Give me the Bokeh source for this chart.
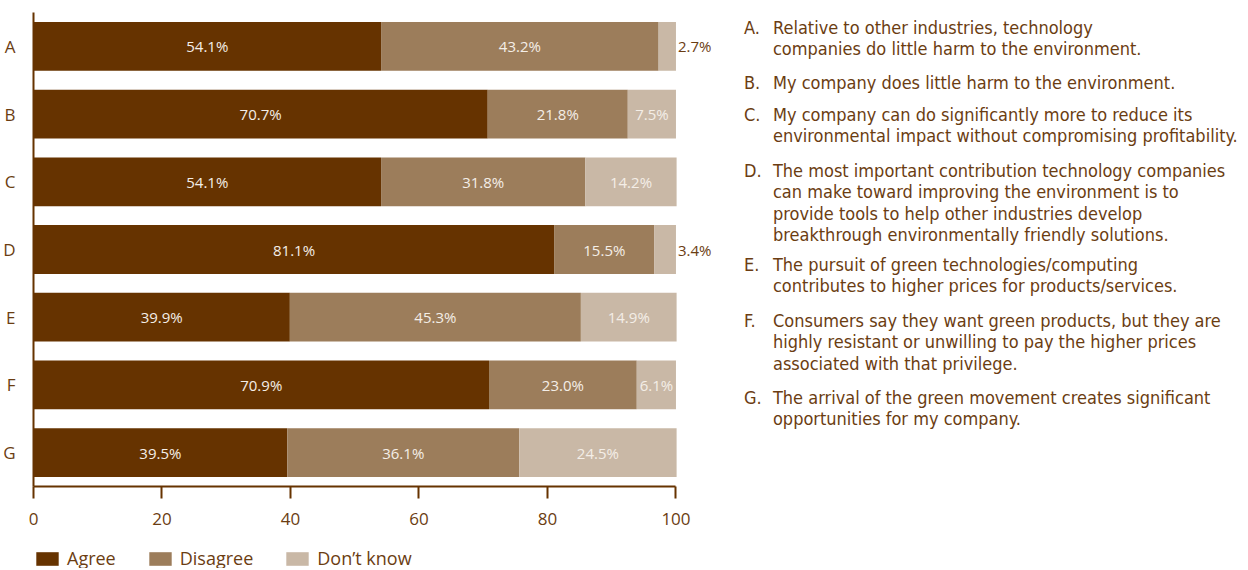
import pandas as pd
from bokeh.plotting import figure
from bokeh.layouts import column
from bokeh.models import ColumnDataSource, FactorRange, Range1d, Legend, LegendItem, FixedTicker
from bokeh.core.properties import value
from bokeh.embed import file_html
from bokeh.resources import INLINE

# ---------------- data ----------------
categories = ["A", "B", "C", "D", "E", "F", "G"]
agree = [54.1, 70.7, 54.1, 81.1, 39.9, 70.9, 39.5]
disagree = [43.2, 21.8, 31.8, 15.5, 45.3, 23.0, 36.1]
dont_know = [2.7, 7.5, 14.2, 3.4, 14.9, 6.1, 24.5]
series = ["Agree", "Disagree", "Don\u2019t know"]
x_ticks = [0, 20, 40, 60, 80, 100]

statements = [
    ["Relative to other industries, technology",
     "companies do little harm to the environment."],
    ["My company does little harm to the environment."],
    ["My company can do significantly more to reduce its",
     "environmental impact without compromising profitability."],
    ["The most important contribution technology companies",
     "can make toward improving the environment is to",
     "provide tools to help other industries develop",
     "breakthrough environmentally friendly solutions."],
    ["The pursuit of green technologies/computing",
     "contributes to higher prices for products/services."],
    ["Consumers say they want green products, but they are",
     "highly resistant or unwilling to pay the higher prices",
     "associated with that privilege."],
    ["The arrival of the green movement creates significant",
     "opportunities for my company."],
]

# ---------------- styles / layout ----------------
colors = ["#663300", "#9C7D5B", "#C9B8A6"]
brown = "#663300"
text_brown = "#6B3D12"
in_label = "#F4EEE7"
FONT = "Open Sans"
NARROW = "DejaVu Sans Condensed"

W = 1240
border_l, border_t, border_b = 32, 12, 50
frame_h = 474
H = border_t + frame_h + border_b
frame_w = W - border_l
px_per_unit = 643 / 100.0
x_end = frame_w / px_per_unit
band_px = frame_h / len(categories)
frame_top_page = 13
stmt_first_py = [28, 83, 115, 171, 265, 321, 398]
line_gap = 21.3

df = pd.DataFrame({"cat": categories, "Agree": agree, "Disagree": disagree,
                   "Don\u2019t know": dont_know})
source = ColumnDataSource(df)

p = figure(width=W, height=H,
           x_range=Range1d(0, x_end),
           y_range=FactorRange(factors=categories[::-1]),
           output_backend="svg", toolbar_location=None,
           min_border_left=border_l, min_border_right=0, min_border_top=border_t,
           min_border_bottom=border_b)
p.outline_line_color = None
p.xgrid.visible = False
p.ygrid.visible = False
p.background_fill_color = "white"

rends = p.hbar_stack(series, y="cat", height=0.72, color=colors, line_color=None,
                     source=source)

# percentage labels
in_x, in_y, in_t, out_x, out_y, out_t = [], [], [], [], [], []
for c, a, d, k in zip(categories, agree, disagree, dont_know):
    for start, v in ((0, a), (a, d)):
        in_x.append(start + v / 2); in_y.append(c); in_t.append(f"{v:.1f}%")
    if k < 5:
        out_x.append(a + d + k); out_y.append(c); out_t.append(f"{k:.1f}%")
    else:
        in_x.append(a + d + k / 2); in_y.append(c); in_t.append(f"{k:.1f}%")

p.text(x=in_x, y=in_y, text=in_t, text_align="center", text_baseline="middle",
       text_color=in_label, text_font=value(FONT), text_font_size="15px")
p.text(x=out_x, y=out_y, text=out_t, text_align="left", text_baseline="middle",
       x_offset=2, text_color=text_brown, text_font=value(FONT), text_font_size="15px")

# statements on the right
def to_y(py):
    return (frame_top_page + frame_h - py) / band_px

lx, ly, lt, sx, sy, st = [], [], [], [], [], []
for c, lines, py in zip(categories, statements, stmt_first_py):
    lx.append(100); ly.append(to_y(py)); lt.append(c + ".")
    for j, ln in enumerate(lines):
        sx.append(100); sy.append(to_y(py + j * line_gap)); st.append(ln)

p.text(x=lx, y=ly, text=lt, x_offset=68, text_align="left", text_baseline="middle",
       text_color=text_brown, text_font=value(NARROW), text_font_size="18px")
p.text(x=sx, y=sy, text=st, x_offset=97, text_align="left", text_baseline="middle",
       text_color=text_brown, text_font=value(NARROW), text_font_size="18px")

# axes
xa = p.xaxis[0]
xa.ticker = FixedTicker(ticks=x_ticks)
xa.bounds = (0, 100)
xa.axis_line_color = brown
xa.axis_line_width = 2
xa.major_tick_line_color = brown
xa.major_tick_line_width = 2
xa.major_tick_out = 12
xa.major_tick_in = 0
xa.minor_tick_line_color = None
xa.major_label_standoff = 14
xa.major_label_text_font = FONT
xa.major_label_text_font_size = "17px"
xa.major_label_text_color = text_brown

ya = p.yaxis[0]
ya.axis_line_color = brown
ya.axis_line_width = 2
ya.major_tick_line_color = None
ya.minor_tick_line_color = None
ya.major_label_standoff = 12
ya.major_label_text_font = FONT
ya.major_label_text_font_size = "17px"
ya.major_label_text_color = text_brown

# ---------------- legend strip ----------------
LH = 32
pl = figure(width=W, height=LH, output_backend="svg", toolbar_location=None,
            x_range=Range1d(0, 1), y_range=Range1d(0, 1),
            x_axis_location=None, y_axis_location=None,
            min_border_left=border_l, min_border_right=0, min_border_top=0,
            min_border_bottom=0)
pl.outline_line_color = None
pl.xgrid.visible = False
pl.ygrid.visible = False
swatches = [pl.rect(x=[-10], y=[-10], width=1, height=1, fill_color=c, line_color=None)
            for c in colors]
legend = Legend(items=[LegendItem(label=s, renderers=[r]) for s, r in zip(series, swatches)],
                orientation="horizontal", location=(0, LH - 16 - 17 - 1),
                margin=0, padding=0, spacing=30,
                glyph_width=28, glyph_height=17, label_standoff=6, label_height=17,
                label_text_font=FONT, label_text_font_size="18px",
                label_text_color=text_brown, border_line_color=None,
                background_fill_alpha=0)
pl.add_layout(legend)

layout = column(p, pl, spacing=0)
open("out.html", "w").write(file_html(layout, INLINE))
